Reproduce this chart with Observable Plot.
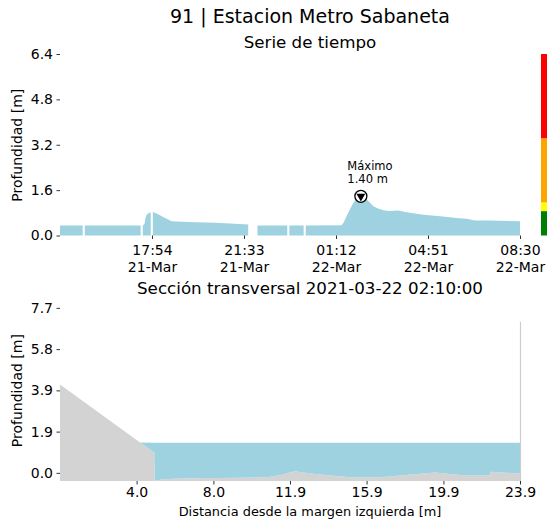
<!DOCTYPE html>
<html>
<head>
<meta charset="utf-8">
<script src="https://cdn.jsdelivr.net/npm/d3@7"></script>
<script src="https://cdn.jsdelivr.net/npm/@observablehq/plot@0.6"></script>
<style>
html, body { margin: 0; padding: 0; background: #fff; }
#fig { position: relative; width: 547px; height: 525px; overflow: hidden; font-family: "DejaVu Sans", sans-serif; color: #000; }
.t { position: absolute; left: 0; width: 620px; text-align: center; white-space: nowrap; line-height: 1; }
.p { position: absolute; left: 0; }
</style>
</head>
<body>
<div id="fig">
  <div class="t" id="title" style="top:7px;font-size:19px;"></div>
  <div class="t" id="sub1" style="top:33.5px;font-size:16.7px;"></div>
  <div class="p" id="topPlot" style="top:0px;"></div>
  <div class="p" id="cbar" style="top:0px;left:541px;"></div>
  <div class="t" id="sub2" style="top:279.5px;font-size:16.7px;"></div>
  <div class="p" id="botPlot" style="top:290px;"></div>
  <div class="t" id="xlab" style="top:505.8px;font-size:12.9px;"></div>
</div>
<script>
// ---- texts ----
const titleText = "91 | Estacion Metro Sabaneta";
const subTitleTop = "Serie de tiempo";
const subTitleBottom = "Sección transversal 2021-03-22 02:10:00";
const yLabel = "Profundidad [m]";
const xLabelBottom = "Distancia desde la margen izquierda [m]";

// ---- time series (depth in m; null = missing sample) ----
const seriesStart = "2021-03-21 14:15";
const seriesEnd = "2021-03-22 08:30";
const seriesTime = [
  "2021-03-21 14:15","2021-03-21 15:09","2021-03-21 15:11","2021-03-21 15:14","2021-03-21 16:30",
  "2021-03-21 17:27","2021-03-21 17:29","2021-03-21 17:32","2021-03-21 17:36","2021-03-21 17:39",
  "2021-03-21 17:42","2021-03-21 17:48","2021-03-21 17:51","2021-03-21 17:53","2021-03-21 17:56",
  "2021-03-21 18:01","2021-03-21 18:10","2021-03-21 18:17","2021-03-21 18:30","2021-03-21 18:41",
  "2021-03-21 19:20","2021-03-21 20:24","2021-03-21 21:00","2021-03-21 21:43","2021-03-21 21:45",
  "2021-03-21 22:05","2021-03-21 23:16","2021-03-21 23:18","2021-03-21 23:21","2021-03-21 23:55",
  "2021-03-21 23:57","2021-03-22 00:00","2021-03-22 01:25","2021-03-22 01:30","2021-03-22 01:37",
  "2021-03-22 01:45","2021-03-22 01:53","2021-03-22 02:01","2021-03-22 02:10","2021-03-22 02:21",
  "2021-03-22 02:30","2021-03-22 02:41","2021-03-22 02:52","2021-03-22 03:05","2021-03-22 03:20",
  "2021-03-22 03:40","2021-03-22 04:00","2021-03-22 04:20","2021-03-22 04:40","2021-03-22 05:20",
  "2021-03-22 05:59","2021-03-22 06:23","2021-03-22 06:43","2021-03-22 07:19","2021-03-22 08:30"
];
const seriesDepth = [
  0.35, 0.35, null, 0.35, 0.35,
  0.35, null, 0.36, 0.40, 0.65,
  0.75, 0.80, 0.82, null, 0.83,
  0.80, 0.74, 0.68, 0.58, 0.50,
  0.48, 0.45, 0.42, 0.39, null,
  0.35, 0.35, null, 0.35, 0.35,
  null, 0.35, 0.36, 0.45, 0.68,
  0.92, 1.15, 1.33, 1.40, 1.33,
  1.20, 1.03, 0.95, 0.89, 0.86,
  0.88, 0.82, 0.78, 0.73, 0.68,
  0.62, 0.59, 0.53, 0.53, 0.50
];
const tickTimes = ["2021-03-21 17:54","2021-03-21 21:33","2021-03-22 01:12","2021-03-22 04:51","2021-03-22 08:30"];
const yTicksTop = [0, 1.6, 3.2, 4.8, 6.4];

// ---- alert levels (colour bar) ----
const alertBounds = [0, 0.86, 1.17, 3.43, 6.4];
const alertColors = ["#008000", "#ffff00", "#ffa500", "#ff0000"];

// ---- cross section ----
const profileX = [0, 4.16, 4.9, 4.92, 5.37, 6.23, 10.74, 11.43, 12.2, 13.0, 15.06, 16.62, 19.48, 20.95, 22.34, 22.37, 23.86, 23.9];
const profileZ = [4.12, 1.42, 0.95, -0.37, -0.30, -0.26, -0.21, -0.11, 0.08, -0.03, -0.21, -0.21, 0.02, -0.11, -0.11, 0.05, -0.03, -0.03];
const waterLevel = 1.40;
const rightBankX = [23.9];
const rightBankTop = [7.05];
const xTicksBottom = [3.98, 7.97, 11.95, 15.93, 19.92, 23.9];
const yTicksBottom = [0, 1.925, 3.85, 5.775, 7.7];
const yDomainBottom = [-0.38, 8.1];

const waterColor = "#9ed2e0";
const groundColor = "#d3d3d3";

// ---- build ----
const parse = d3.utcParse("%Y-%m-%d %H:%M");
const series = seriesTime.map((t, i) => ({t: parse(t), v: seriesDepth[i]}));
const maxPt = series.filter(d => d.v != null).reduce((a, b) => (b.v > a.v ? b : a));
const bands = alertColors.map((c, i) => ({lo: alertBounds[i], hi: alertBounds[i + 1], c}));
const profile = profileX.map((x, i) => ({x, z: profileZ[i]}));
const bank = rightBankX.map((x, i) => ({x, top: rightBankTop[i]}));

document.getElementById("title").textContent = titleText;
document.getElementById("sub1").textContent = subTitleTop;
document.getElementById("sub2").textContent = subTitleBottom;
document.getElementById("xlab").textContent = xLabelBottom;

const baseStyle = {fontFamily: "DejaVu Sans, sans-serif", fontSize: "14px", background: "transparent", overflow: "visible", color: "#000"};

const topPlot = Plot.plot({
  width: 547, height: 280,
  marginLeft: 60, marginRight: 27, marginTop: 54, marginBottom: 44.5,
  style: baseStyle,
  x: {type: "utc", domain: [parse(seriesStart), parse(seriesEnd)]},
  y: {domain: [0, 6.4]},
  marks: [
    Plot.areaY(series, {x: "t", y1: 0, y2: "v", fill: waterColor}),
    Plot.axisX({ticks: tickTimes.map(parse), tickFormat: d3.utcFormat("%H:%M\n%d-%b"), tickSize: 3.5, tickPadding: 4, lineHeight: 1.2, label: null, strokeWidth: 0.8}),
    Plot.axisY({ticks: yTicksTop, tickFormat: d3.format(".1f"), tickSize: 3.5, tickPadding: 4, label: yLabel, labelAnchor: "center", labelArrow: "none", labelOffset: 48, strokeWidth: 0.8}),
    Plot.dot([maxPt], {x: "t", y: "v", r: 6, fill: "white", stroke: "black", strokeWidth: 1.3}),
    Plot.dot([maxPt], {x: "t", y: "v", symbol: "triangle", r: 3.3, fill: "black", rotate: 180}),
    Plot.text([maxPt], {x: "t", y: "v", text: d => `Máximo\n${d.v.toFixed(2)} m`, textAnchor: "start", lineAnchor: "bottom", dx: -13.5, dy: -13.5, fontSize: 11.5, lineHeight: 1.15})
  ]
});
document.getElementById("topPlot").appendChild(topPlot);

const cbar = Plot.plot({
  width: 6, height: 280,
  marginLeft: 0, marginRight: 0, marginTop: 54, marginBottom: 44.5,
  style: {background: "transparent"},
  x: {axis: null}, y: {domain: [0, 6.4], axis: null},
  color: {type: "identity"},
  marks: [Plot.rect(bands, {y1: "lo", y2: "hi", fill: "c"})]
});
document.getElementById("cbar").appendChild(cbar);

const botPlot = Plot.plot({
  width: 547, height: 235,
  marginLeft: 60, marginRight: 27, marginTop: 9.3, marginBottom: 44,
  style: baseStyle,
  x: {domain: [0, 23.9]},
  y: {domain: yDomainBottom},
  marks: [
    Plot.areaY(profile, {x: "x", y1: yDomainBottom[0], y2: "z", fill: groundColor}),
    Plot.areaY(profile, {x: "x", y1: "z", y2: d => Math.max(d.z, waterLevel), fill: waterColor}),
    Plot.ruleX(bank, {x: "x", y1: yDomainBottom[0], y2: "top", stroke: "#cccccc", strokeWidth: 1.2}),
    Plot.axisX({ticks: xTicksBottom, tickFormat: d3.format(".1f"), tickSize: 3.5, tickPadding: 2.5, label: null, strokeWidth: 0.8}),
    Plot.axisY({ticks: yTicksBottom, tickFormat: d3.format(".1f"), tickSize: 3.5, tickPadding: 4, label: yLabel, labelAnchor: "center", labelArrow: "none", labelOffset: 48, strokeWidth: 0.8})
  ]
});
document.getElementById("botPlot").appendChild(botPlot);
</script>
</body>
</html>
